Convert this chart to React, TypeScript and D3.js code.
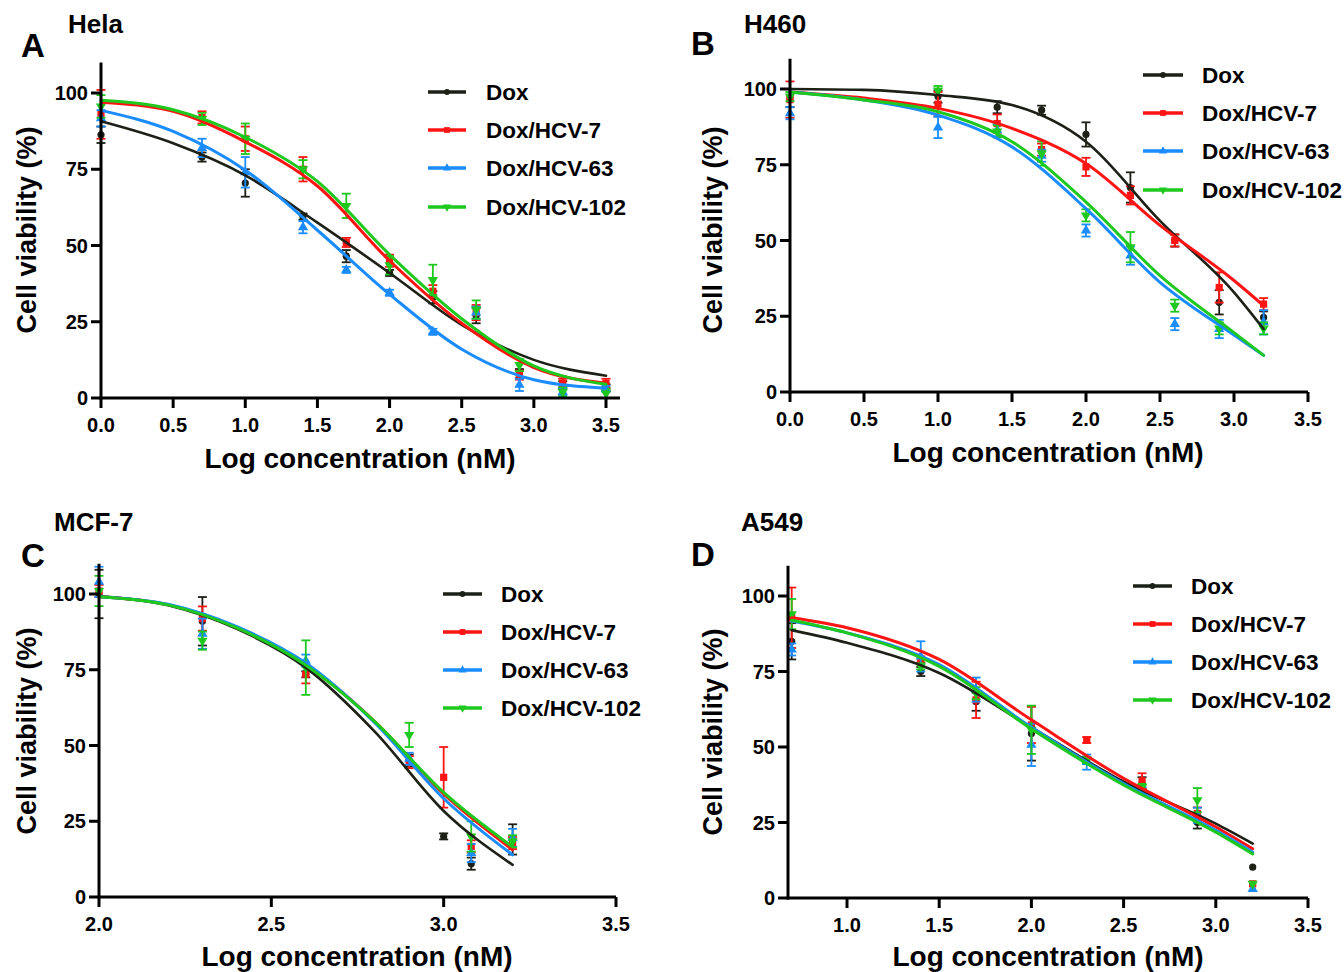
import React from 'react';
import * as d3 from 'd3';

const FONT = "'Liberation Sans', Arial, Helvetica, sans-serif";

const seriesNames = ['Dox', 'Dox/HCV-7', 'Dox/HCV-63', 'Dox/HCV-102'];
const seriesColors = ['#1c2016', '#ff1414', '#1a8cff', '#1ec81e'];
const seriesShapes = ['circle', 'square', 'triangleUp', 'triangleDown'];

// --- Hela (A) ---
const helaX = [0, 0.7, 1.0, 1.4, 1.7, 2.0, 2.3, 2.6, 2.9, 3.2, 3.5];
const helaMean = [
  [86.3, 79, 70.5, 59.5, 46.5, 41, 33, 27, 8, 4.5, 3.5],
  [93, 92, 85, 75, 51, 45, 35, 28, 7.5, 4.8, 4.8],
  [91.7, 82, 74, 56, 42, 34.5, 21.7, 28, 4.3, 2, 3],
  [95.6, 91.5, 85, 75, 63, 43.5, 38.7, 29, 10.8, 2, 1.5],
];
const helaErr = [
  [2.7, 1.5, 4.5, 1, 2, 1, 2, 2.5, 1.5, 1, 1],
  [8, 2, 4, 4, 1.5, 2, 2, 2.5, 1.5, 1.5, 1.5],
  [2.7, 3, 5, 2, 1, 1, 1, 2, 2, 1, 1],
  [3.7, 2, 5, 3, 4, 3, 5, 3, 2, 1.5, 1.5],
];
const helaFitX = [0, 0.5, 1.0, 1.5, 2.0, 2.5, 3.0, 3.5];
const helaFit = [
  [90.7, 83.5, 73, 57.5, 41, 24, 12.5, 7.3],
  [97, 94, 84, 69.5, 45, 24.5, 10, 4.8],
  [94.3, 87.4, 74.7, 55, 34, 16, 6, 3.2],
  [97.6, 94.5, 85.5, 71, 47, 26, 10.5, 4.5],
];

// --- H460 (B) ---
const h460X = [0, 1.0, 1.4, 1.7, 2.0, 2.3, 2.6, 2.9, 3.2];
const h460Mean = [
  [97, 97.5, 94, 93, 85, 67.5, 50, 29.6, 24.6],
  [96.5, 95, 88.6, 80, 74.3, 64.9, 50, 34.5, 29],
  [92, 87.3, 86.4, 78, 53.3, 45, 22.4, 20.8, 23],
  [97.5, 99.5, 86, 78.7, 58.3, 47.8, 28.5, 21, 21],
];
const h460Err = [
  [3, 2, 2, 1.5, 4, 5, 2, 4, 2],
  [6, 4, 3, 2, 3, 3, 2, 5, 2],
  [2, 3.5, 2, 2, 2, 3, 2, 3, 4],
  [1.5, 1.5, 2, 4, 2, 5, 2, 2, 2],
];
const h460FitX = [0, 0.5, 1.0, 1.5, 2.0, 2.5, 3.0, 3.2];
const h460Fit = [
  [100, 99.7, 98, 94.7, 82.6, 56.5, 32.9, 20.8],
  [99, 97, 93.6, 87, 75.4, 55, 36.8, 28.5],
  [99, 96.4, 91.4, 80.9, 60.5, 36.2, 18.8, 12.1],
  [99, 96.4, 92.5, 82.6, 62.7, 38.4, 19.6, 12.1],
];

// --- MCF-7 (C) ---
const mcfX = [2.0, 2.3, 2.6, 2.9, 3.0, 3.08, 3.2];
const mcfMean = [
  [100, 91, 73.5, 45, 20, 11, 19],
  [101, 91.9, 73.5, 44.5, 39.5, 16.7, 17.8],
  [104, 86.9, 78, 45.6, null, 14.5, 19.5],
  [101, 84.6, 75.7, 53.5, null, 20, 18.4],
];
const mcfErr = [
  [8, 8, 1, 2, 1, 2, 5],
  [2, 4, 3, 2, 10, 2, 2],
  [5, 5, 2, 2, 0, 3, 3],
  [5, 3, 9, 4, 0, 5, 2],
];
const mcfFitX = [2.0, 2.2, 2.4, 2.6, 2.8, 3.0, 3.2];
const mcfFit = [
  [99.3, 96.3, 88.5, 75.7, 54.6, 28.4, 10.6],
  [99.1, 96.5, 89, 76.8, 57.9, 34, 15.6],
  [99.1, 96.6, 89.2, 77.2, 57.5, 32.5, 13.9],
  [99.1, 96.4, 88.8, 76.5, 57.9, 34.5, 16.5],
];

// --- A549 (D) ---
const a549X = [0.7, 1.4, 1.7, 2.0, 2.3, 2.6, 2.9, 3.2];
const a549Mean = [
  [85, 75, 65, 54.5, 45.7, 38, 25, 10.2],
  [92.8, 79, 65.6, 57.3, 52.3, 38.8, 28, 4.7],
  [82.3, 80, 69, 50.7, 45, 35.7, 27.4, 3],
  [94, 76.7, 67.8, 55.7, 45.7, 36.8, 32.4, 4.7],
];
const a549Err = [
  [6, 1.5, 3, 9, 1, 2, 2, 0],
  [10, 1, 6, 6, 1, 2.5, 2, 0],
  [2, 5, 4, 7, 2.5, 1, 2.5, 0],
  [5, 1, 2, 8, 1, 1, 4, 0],
];
const a549FitX = [0.7, 1.0, 1.5, 2.0, 2.5, 3.0, 3.2];
const a549Fit = [
  [88.7, 84.5, 74.5, 56.5, 38.5, 24.6, 18],
  [92.8, 89.5, 79, 59, 39.6, 23.5, 16.3],
  [91.7, 87.8, 77.3, 56.5, 37.9, 22.4, 15.2],
  [92, 87.8, 76.7, 56, 37.4, 21.8, 14.6],
];

const yTicks = [0, 25, 50, 75, 100];
const xTicksWide = [0, 0.5, 1.0, 1.5, 2.0, 2.5, 3.0, 3.5];
const xTicksC = [2.0, 2.5, 3.0, 3.5];
const xTicksD = [1.0, 1.5, 2.0, 2.5, 3.0, 3.5];

const panels = [
  {
    letter: 'A', name: 'Hela', letterPos: [21, 57], namePos: [68, 33],
    xDomain: [0, 3.5], xRange: [101, 606], yRange: [398, 93], axisEnd: 620,
    xTicks: xTicksWide, x: helaX, mean: helaMean, err: helaErr, fitX: helaFitX, fit: helaFit,
    yLabel: [36, 230], xLabel: [360, 468],
    legend: { x1: 428, x2: 466, tx: 486, ys: [92, 130, 168, 207] },
  },
  {
    letter: 'B', name: 'H460', letterPos: [691, 55], namePos: [744, 33],
    xDomain: [0, 3.5], xRange: [790, 1308], yRange: [392, 89], axisEnd: 1308,
    xTicks: xTicksWide, x: h460X, mean: h460Mean, err: h460Err, fitX: h460FitX, fit: h460Fit,
    yLabel: [722, 230], xLabel: [1048, 462],
    legend: { x1: 1143, x2: 1183, tx: 1202, ys: [75, 113, 151, 190] },
  },
  {
    letter: 'C', name: 'MCF-7', letterPos: [21, 567], namePos: [54, 531],
    xDomain: [2.0, 3.5], xRange: [99, 616], yRange: [897, 594], axisEnd: 616,
    xTicks: xTicksC, x: mcfX, mean: mcfMean, err: mcfErr, fitX: mcfFitX, fit: mcfFit,
    yLabel: [36, 731], xLabel: [357, 966],
    legend: { x1: 443, x2: 482, tx: 501, ys: [594, 632, 670, 708] },
  },
  {
    letter: 'D', name: 'A549', letterPos: [691, 566], namePos: [741, 531],
    xDomain: [0.68, 3.5], xRange: [788, 1308], yRange: [898, 596], axisEnd: 1308,
    xTicks: xTicksD, x: a549X, mean: a549Mean, err: a549Err, fitX: a549FitX, fit: a549Fit,
    yLabel: [722, 732], xLabel: [1048, 966],
    legend: { x1: 1133, x2: 1172, tx: 1191, ys: [586, 624, 662, 700] },
  },
];

function Marker({ shape, x, y, color, s = 1 }) {
  if (shape === 'circle') return <circle cx={x} cy={y} r={3.6 * s} fill={color} />;
  if (shape === 'square') return <rect x={x - 3.6 * s} y={y - 3.6 * s} width={7.2 * s} height={7.2 * s} fill={color} />;
  const path = d3.symbol().type(d3.symbolTriangle).size(46 * s * s)();
  const rot = shape === 'triangleDown' ? 180 : 0;
  return <path d={path} transform={`translate(${x},${y}) rotate(${rot})`} fill={color} />;
}

function Panel({ p }) {
  const xs = d3.scaleLinear().domain(p.xDomain).range(p.xRange);
  const ys = d3.scaleLinear().domain([0, 100]).range(p.yRange);
  const y0 = ys(0);
  const x0 = p.xRange[0];
  const line = d3.line<number>()
    .x((_, i) => xs(p.fitX[i]))
    .y(d => ys(d))
    .curve(d3.curveMonotoneX);

  return (
    <g fontFamily={FONT} fontWeight="bold" fill="#000">
      <text x={p.letterPos[0]} y={p.letterPos[1]} fontSize={33}>{p.letter}</text>
      <text x={p.namePos[0]} y={p.namePos[1]} fontSize={26}>{p.name}</text>

      {/* data: error bars + markers */}
      {p.mean.map((row, si) => (
        <g key={'pts' + si}>
          {row.map((m, i) => {
            if (m == null) return null;
            const cx = xs(p.x[i]);
            const e = p.err[si][i];
            const c = seriesColors[si];
            return (
              <g key={i}>
                {e > 0 && (
                  <g stroke={c} strokeWidth={1.8}>
                    <line x1={cx} x2={cx} y1={ys(m - e)} y2={ys(m + e)} />
                    <line x1={cx - 4.5} x2={cx + 4.5} y1={ys(m - e)} y2={ys(m - e)} />
                    <line x1={cx - 4.5} x2={cx + 4.5} y1={ys(m + e)} y2={ys(m + e)} />
                  </g>
                )}
                <Marker shape={seriesShapes[si]} x={cx} y={ys(m)} color={c} />
              </g>
            );
          })}
        </g>
      ))}

      {/* fitted curves */}
      {p.fit.map((row, si) => (
        <path key={'fit' + si} d={line(row) || ''} fill="none" stroke={seriesColors[si]}
          strokeWidth={si === 0 ? 2.6 : 3} strokeLinecap="round" />
      ))}

      {/* axes */}
      <g stroke="#000" strokeWidth={3}>
        <line x1={x0} x2={x0} y1={y0 + 1.5} y2={ys(110)} />
        <line x1={x0 - 1.5} x2={p.axisEnd} y1={y0} y2={y0} />
        {yTicks.map(t => (
          <line key={'yt' + t} x1={x0 - 10} x2={x0} y1={ys(t)} y2={ys(t)} />
        ))}
        {p.xTicks.map(t => (
          <line key={'xt' + t} x1={xs(t)} x2={xs(t)} y1={y0} y2={y0 + 10} />
        ))}
      </g>
      {yTicks.map(t => (
        <text key={'yl' + t} x={x0 - 13} y={ys(t) + 7} fontSize={20} textAnchor="end">{t}</text>
      ))}
      {p.xTicks.map(t => (
        <text key={'xl' + t} x={xs(t)} y={y0 + 34} fontSize={20} textAnchor="middle">{t.toFixed(1)}</text>
      ))}
      <text x={p.xLabel[0]} y={p.xLabel[1]} fontSize={28} textAnchor="middle">Log concentration (nM)</text>
      <text transform={`translate(${p.yLabel[0]},${p.yLabel[1]}) rotate(-90)`} fontSize={27}
        textAnchor="middle">Cell viability (%)</text>

      {/* legend */}
      {seriesNames.map((n, si) => {
        const y = p.legend.ys[si];
        const mx = (p.legend.x1 + p.legend.x2) / 2;
        return (
          <g key={'lg' + si}>
            <line x1={p.legend.x1} x2={p.legend.x2} y1={y} y2={y} stroke={seriesColors[si]} strokeWidth={3.5} />
            <Marker shape={seriesShapes[si]} x={mx} y={y} color={seriesColors[si]} s={0.8} />
            <text x={p.legend.tx} y={y + 8} fontSize={22.5}>{n}</text>
          </g>
        );
      })}
    </g>
  );
}

export default function App() {
  return (
    <div style={{ position: 'absolute', left: 0, top: 0 }}>
      <svg width={1344} height={972} style={{ display: 'block', background: '#fff' }}>
        {panels.map(p => <Panel key={p.letter} p={p} />)}
      </svg>
    </div>
  );
}
